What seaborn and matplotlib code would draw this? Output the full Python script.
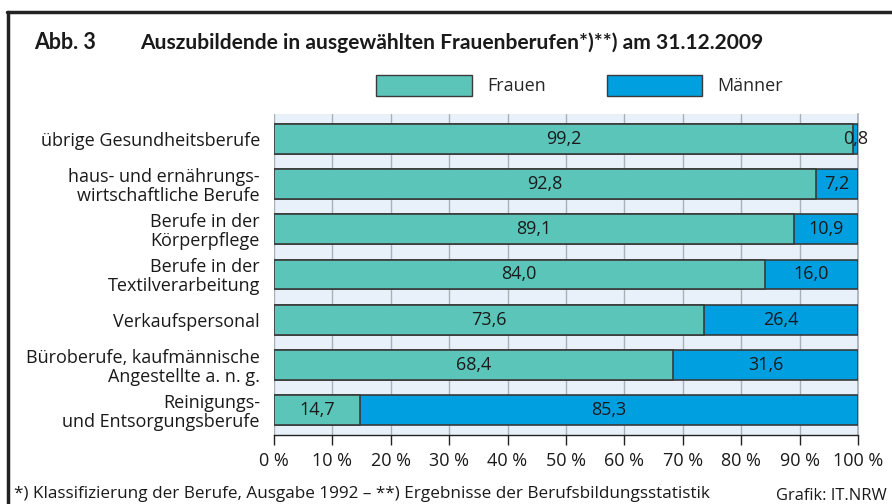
import numpy as np
import pandas as pd
import seaborn as sns
import matplotlib.pyplot as plt
from matplotlib.lines import Line2D

# Data
berufe = ['übrige Gesundheitsberufe',
          'haus- und ernährungs-\nwirtschaftliche Berufe',
          'Berufe in der\nKörperpflege',
          'Berufe in der\nTextilverarbeitung',
          'Verkaufspersonal',
          'Büroberufe, kaufmännische\nAngestellte a. n. g.',
          'Reinigungs-\nund Entsorgungsberufe']
frauen = [99.2, 92.8, 89.1, 84.0, 73.6, 68.4, 14.7]
maenner = [0.8, 7.2, 10.9, 16.0, 26.4, 31.6, 85.3]
ticks = list(range(0, 101, 10))
tick_labels = [f'{t} %' for t in ticks]

df = pd.DataFrame({'beruf': berufe, 'frauen': frauen, 'maenner': maenner})
df['gesamt'] = df['frauen'] + df['maenner']

c_frauen = '#5bc5ba'
c_maenner = '#009fe0'
edge = '#3a3a3a'
txt = '#1a1a1a'

sns.set_theme(style='white')
plt.rcParams['font.family'] = ['Open Sans', 'DejaVu Sans']

fig = plt.figure(figsize=(8.92, 5.04), dpi=100)
ax = fig.add_axes([0.307, 0.137, 0.655, 0.637])
ax.set_facecolor('#e8f0f9')

# stacked: total (blue) underneath, Frauen on top
sns.barplot(data=df, y='beruf', x='gesamt', color=c_maenner, orient='h', width=0.66,
            edgecolor=edge, linewidth=1.2, saturation=1, ax=ax, zorder=3)
sns.barplot(data=df, y='beruf', x='frauen', color=c_frauen, orient='h', width=0.66,
            edgecolor=edge, linewidth=1.2, saturation=1, ax=ax, zorder=3)

fmt = lambda v: f'{v:.1f}'.replace('.', ',')
ax.bar_label(ax.containers[1], labels=[fmt(v) for v in frauen], label_type='center',
             fontsize=13, color=txt, zorder=5)
for i, (f, m) in enumerate(zip(frauen, maenner)):
    ax.text(f + m / 2, i, fmt(m), ha='center', va='center', fontsize=13,
            color=txt, zorder=5)

ax.set_xlim(0, 100)
ax.set_ylim(6.55, -0.55)
ax.set_xticks(ticks)
ax.set_xticklabels(tick_labels, fontsize=13, color=txt)
ax.tick_params(axis='x', bottom=True, length=7, width=1, color='#222222', pad=5)
ax.tick_params(axis='y', left=False, labelsize=13, labelcolor=txt, pad=4)
for lbl in ax.get_yticklabels():
    lbl.set_multialignment('right')
    lbl.set_linespacing(1.05)
ax.set_xlabel('')
ax.set_ylabel('')
ax.xaxis.grid(True, color='#a8b0b8', linewidth=1)
ax.set_axisbelow(True)
for s in ['top', 'left']:
    ax.spines[s].set_visible(False)
ax.spines['right'].set_color('#a8b0b8')
ax.spines['bottom'].set_color('#222222')
ax.spines['bottom'].set_linewidth(1)

# legend
handles = [plt.Rectangle((0, 0), 1, 1, facecolor=c_frauen, edgecolor=edge, linewidth=1),
           plt.Rectangle((0, 0), 1, 1, facecolor=c_maenner, edgecolor=edge, linewidth=1)]
fig.legend(handles, ['Frauen', 'Männer'], loc='center', bbox_to_anchor=(0.65, 0.831),
           ncol=2, frameon=False, fontsize=13, handlelength=5.3, handleheight=1.4,
           handletextpad=0.85, columnspacing=3.35)

# title and footer
fig.text(0.038, 0.915, 'Abb. 3', fontsize=15.5, fontweight='bold', va='center',
         color=txt, family=['Lato', 'DejaVu Sans'])
fig.text(0.157, 0.915, 'Auszubildende in ausgewählten Frauenberufen*)**) am 31.12.2009',
         fontsize=15.1, fontweight='bold', va='center', color=txt,
         family=['Lato', 'DejaVu Sans'])
fig.text(0.016, 0.02, '*) Klassifizierung der Berufe, Ausgabe 1992 – **) Ergebnisse der Berufsbildungsstatistik',
         fontsize=12.3, va='center', color=txt)
fig.text(0.994, 0.016, 'Grafik: IT.NRW', fontsize=11.9, va='center', ha='right', color=txt)

# frame
fig.add_artist(Line2D([0.009, 0.009], [0.0, 0.976], color='#222222', linewidth=2.5))
fig.add_artist(Line2D([0.008, 1.0], [0.976, 0.976], color='#222222', linewidth=2.5))

fig.savefig('out.png', dpi=100)
